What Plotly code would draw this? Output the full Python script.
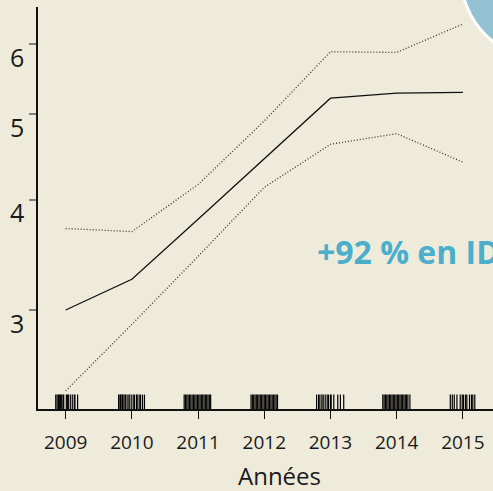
import plotly.graph_objects as go

years = [2009, 2010, 2011, 2012, 2013, 2014, 2015]
mid = [3.00, 3.25, 3.80, 4.45, 5.21, 5.28, 5.29]
upper = [3.71, 3.68, 4.16, 4.91, 5.88, 5.87, 6.32]
lower = [2.43, 2.89, 3.45, 4.13, 4.62, 4.75, 4.41]

y_ticks = [3, 4, 5, 6]
y_labels = ["3", "4", "5", "6"]
x_labels = ["2009", "2010", "2011", "2012", "2013", "2014", "2015"]

rug = [
    2008.85, 2008.87, 2008.89, 2008.91, 2008.92, 2008.94, 2008.96, 2008.97,
    2009.01, 2009.03, 2009.04, 2009.07, 2009.10, 2009.13, 2009.14, 2009.18,
    2009.80, 2009.82, 2009.83, 2009.85, 2009.86, 2009.88, 2009.90, 2009.91,
    2009.94, 2009.96, 2009.99, 2010.02, 2010.04, 2010.07, 2010.08, 2010.11,
    2010.13, 2010.16, 2010.19,
    2010.79, 2010.81, 2010.83, 2010.85, 2010.87, 2010.89, 2010.91, 2010.93,
    2010.95, 2010.97, 2010.99, 2011.01, 2011.03, 2011.05, 2011.07, 2011.09,
    2011.11, 2011.13, 2011.15, 2011.17, 2011.19,
    2011.80, 2011.82, 2011.84, 2011.86, 2011.88, 2011.90, 2011.92, 2011.94,
    2011.96, 2011.98, 2012.00, 2012.02, 2012.04, 2012.06, 2012.08, 2012.10,
    2012.12, 2012.14, 2012.16, 2012.18, 2012.20,
    2012.79, 2012.82, 2012.84, 2012.87, 2012.89, 2012.92, 2012.95, 2012.97,
    2013.00, 2013.01, 2013.05, 2013.11, 2013.15, 2013.20,
    2013.79, 2013.81, 2013.83, 2013.85, 2013.87, 2013.89, 2013.91, 2013.93,
    2013.95, 2013.97, 2013.99, 2014.01, 2014.03, 2014.05, 2014.07, 2014.09,
    2014.11, 2014.13, 2014.15, 2014.17, 2014.20,
    2014.81, 2014.84, 2014.87, 2014.91, 2014.96, 2014.99, 2015.01, 2015.04,
    2015.06, 2015.10, 2015.13, 2015.15, 2015.18,
]

BG = "#EEEBDA"
FONT = "Open Sans"

fig = go.Figure()

fig.add_trace(go.Scatter(
    x=rug, y=[0.015] * len(rug), yaxis="y2", mode="markers",
    marker=dict(symbol="line-ns", size=12, line=dict(width=1.2, color="#000000")),
    showlegend=False, hoverinfo="skip",
))
fig.add_trace(go.Scatter(
    x=years, y=upper, mode="lines",
    line=dict(color="#333333", width=1.3, dash="1px,2px"), showlegend=False,
))
fig.add_trace(go.Scatter(
    x=years, y=lower, mode="lines",
    line=dict(color="#333333", width=1.3, dash="1px,2px"), showlegend=False,
))
fig.add_trace(go.Scatter(
    x=years, y=mid, mode="lines",
    line=dict(color="#111111", width=1.3), showlegend=False,
))

fig.update_layout(
    width=493, height=491,
    margin=dict(l=38, r=0, t=7, b=82),
    paper_bgcolor=BG, plot_bgcolor=BG,
    font=dict(family=FONT, color="#1a1a1a"),
    xaxis=dict(
        range=[2008.582, 2015.455], tickmode="array", tickvals=years, ticktext=x_labels,
        showgrid=False, zeroline=False, showline=True, linecolor="#111111", linewidth=1.5,
        ticks="outside", ticklen=8, tickwidth=1.3, tickcolor="#111111",
        tickfont=dict(size=19, family=FONT, color="#1a1a1a"),
        ticklabelstandoff=7,
    ),
    yaxis=dict(
        type="log", range=[0.3651, 0.8200], tickmode="array", tickvals=y_ticks,
        ticktext=y_labels, showgrid=False, zeroline=False, showline=True,
        linecolor="#111111", linewidth=1.5, ticks="outside", ticklen=7, tickwidth=1.5,
        tickcolor="#808080", tickfont=dict(size=25, family=FONT, color="#1a1a1a"),
        ticklabelshift=14, ticklabelstandoff=0,
    ),
    yaxis2=dict(overlaying="y", range=[0, 1], visible=False),
    shapes=[
        dict(type="circle", xref="paper", yref="paper",
             x0=0.930, x1=1.290, y0=0.872, y1=1.280,
             fillcolor="#93C2D2", line=dict(color="white", width=3), layer="above"),
    ],
    annotations=[
        dict(text="+92 % en ID", xref="paper", yref="paper", x=(315 - 38) / 455,
             y=(409 - 252) / 402, xanchor="left", yanchor="middle", showarrow=False,
             font=dict(family=FONT, size=32, color="#4BAFCB", weight="bold")),
        dict(text="Années", xref="paper", yref="paper", x=(279 - 38) / 455,
             y=(409 - 475) / 402, xanchor="center", yanchor="middle", showarrow=False,
             font=dict(family=FONT, size=24, color="#1a1a1a")),
    ],
)

fig.write_html(
    "out.html",
    config={"displayModeBar": False},
    post_script="document.body.style.margin='0';document.body.style.overflow='hidden';",
)
